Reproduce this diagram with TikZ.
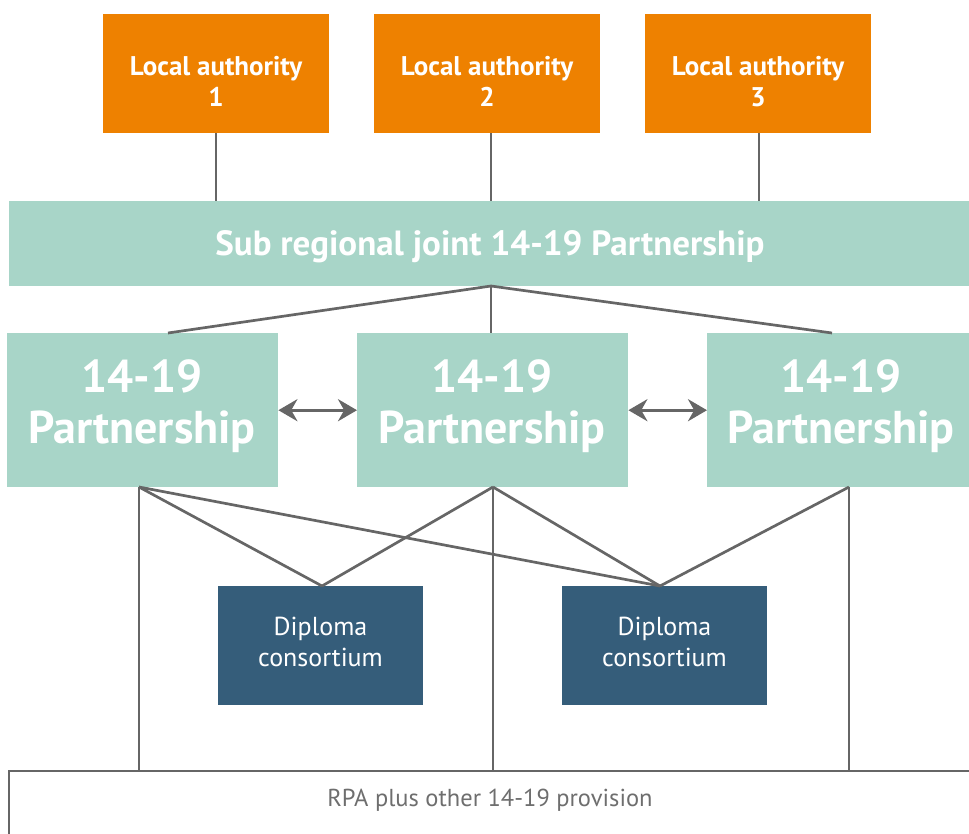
\documentclass[tikz,border=0pt]{standalone}
\usepackage{fontspec}
\setmainfont{PT Sans}
\usetikzlibrary{arrows.meta,calc}
\definecolor{laorange}{HTML}{EE8100}
\definecolor{teal}{HTML}{A8D5C8}
\definecolor{dipblue}{HTML}{355D7A}
\definecolor{lngray}{HTML}{666666}
\definecolor{txtgray}{HTML}{6E6E6E}
\begin{document}
\begin{tikzpicture}[x=1pt,y=-1pt,
  labox/.style={fill=laorange,minimum width=226pt,minimum height=119pt,inner sep=0pt,anchor=north west},
  latext/.style={text=white,font=\bfseries\fontsize{27}{31}\selectfont,align=center,inner sep=0pt},
  subbox/.style={fill=teal,minimum width=960pt,minimum height=85pt,inner sep=0pt,anchor=north west},
  pbox/.style={fill=teal,minimum height=154pt,inner sep=0pt,anchor=north west},
  ptext/.style={text=white,font=\bfseries\fontsize{46}{51}\selectfont,align=center,inner sep=0pt},
  dbox/.style={fill=dipblue,minimum width=205pt,minimum height=119pt,inner sep=0pt,anchor=north west},
  dtext/.style={text=white,font=\fontsize{26}{31}\selectfont,align=center,inner sep=0pt},
  conn/.style={draw=lngray,line width=2.7pt},
  dbl/.style={draw=lngray,line width=3.2pt,{Stealth[length=19pt,width=22pt]}-{Stealth[length=19pt,width=22pt]}}
]
\useasboundingbox (0,0) rectangle (969,833);
% local authorities
\node[labox] (la1) at (103,14) {};
\node[labox] (la2) at (374,14) {};
\node[labox] (la3) at (645,14) {};
\node[latext] (la1t) at (216,81.5) {Local authority\\1};
\node[latext] (la2t) at (487,81.5) {Local authority\\2};
\node[latext] (la3t) at (758,81.5) {Local authority\\3};
% sub regional
\node[subbox] (sub) at (9,201) {};
\node[text=white,font=\bfseries\fontsize{35}{40}\selectfont,inner sep=0pt] (subt) at (490,246.5) {Sub regional joint 14-19 Partnership};
% partnerships
\node[pbox,minimum width=271pt] (p1) at (7,333) {};
\node[pbox,minimum width=271pt] (p2) at (357,333) {};
\node[pbox,minimum width=262pt] (p3) at (707,333) {};
\node[ptext] (p1t) at (142,406.5) {14-19\\Partnership};
\node[ptext] (p2t) at (492,406.5) {14-19\\Partnership};
\node[ptext] (p3t) at (841,406.5) {14-19\\Partnership};
% diploma
\node[dbox] (d1) at (218,586) {};
\node[dbox] (d2) at (562,586) {};
\node[dtext] (d1t) at (320.5,641.5) {Diploma\\consortium};
\node[dtext] (d2t) at (664.5,641.5) {Diploma\\consortium};
% bottom box
\node[anchor=center,text=txtgray,font=\fontsize{24.5}{28}\selectfont,inner sep=0pt] (rpa) at (490,800) {RPA plus other 14-19 provision};
\coordinate (bl) at (9,771);
\coordinate (br) at (972,771);
\coordinate (bb) at (9,836);
\draw[conn] (br) -- (bl) -- (bb);
% connectors LA -> sub
\coordinate (la1b) at (216,133);
\coordinate (la2b) at (491,133);
\coordinate (la3b) at (759,133);
\draw[conn] (la1b) -- (la1b |- sub.north);
\draw[conn] (la2b) -- (la2b |- sub.north);
\draw[conn] (la3b) -- (la3b |- sub.north);
% sub -> partnerships
\coordinate (subb) at (491,286);
\coordinate (p1top) at (168,333);
\coordinate (p3top) at (832,333);
\draw[conn] (subb) -- (p1top);
\draw[conn] (subb) -- (subb |- p2.north);
\draw[conn] (subb) -- (p3top);
% double arrows
\draw[dbl] (p1.east) -- (p2.west);
\draw[dbl] (p2.east) -- (p3.west);
% partnerships -> diploma and provision
\coordinate (p1b) at (139,487);
\coordinate (p2b) at (493,487);
\coordinate (p3b) at (849,487);
\coordinate (d1top) at (322,586);
\coordinate (d2top) at (660,586);
\draw[conn] (p1b) -- (d1top);
\draw[conn] (p1b) -- (d2top);
\draw[conn] (p2b) -- (d1top);
\draw[conn] (p2b) -- (d2top);
\draw[conn] (p3b) -- (d2top);
\draw[conn] (p1b) -- (p1b |- bl);
\draw[conn] (p2b) -- (p2b |- bl);
\draw[conn] (p3b) -- (p3b |- bl);
\end{tikzpicture}
\end{document}
